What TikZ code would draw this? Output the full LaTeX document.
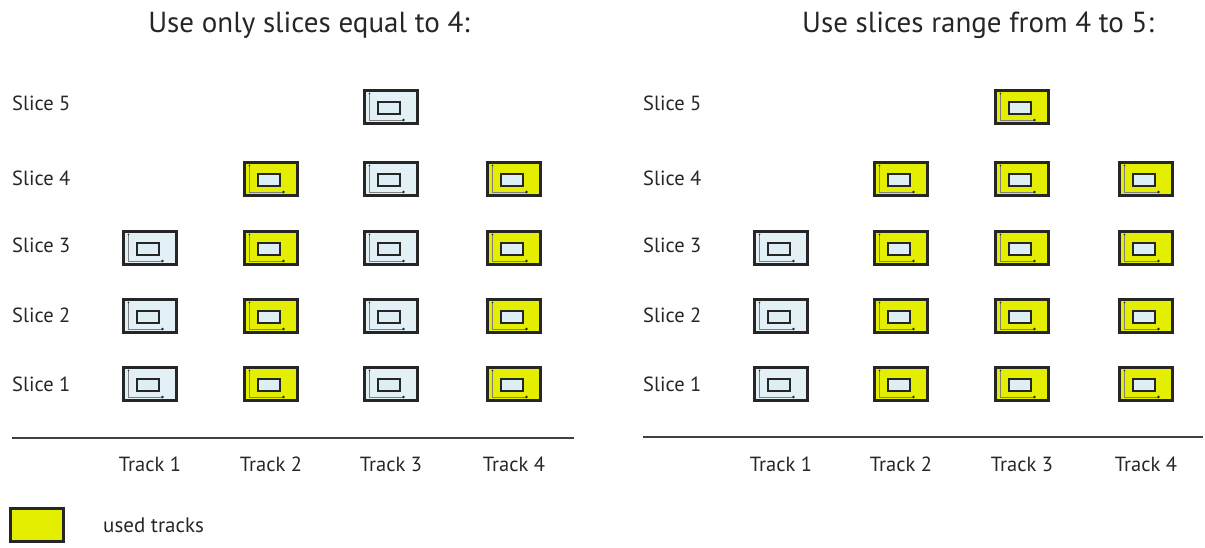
\documentclass[tikz,border=0pt]{standalone}
\usepackage{fontspec}
\setmainfont{PT Sans}
\definecolor{iconblue}{HTML}{E3F1F7}
\definecolor{innerblue}{HTML}{DDEFF5}
\definecolor{iconyellow}{HTML}{E4EE00}
\definecolor{edgecol}{HTML}{262626}
\definecolor{txtcol}{HTML}{262626}
\definecolor{rulecol}{HTML}{404040}
\tikzset{
  trackicon/.style={draw=edgecol, line width=2.2pt, minimum width=53pt, minimum height=33pt, inner sep=0pt,
    path picture={
      \draw[line width=0.7pt, draw=gray]
        ([xshift=5pt,yshift=-2pt]path picture bounding box.north west) |-
        ([xshift=-14pt,yshift=3.5pt]path picture bounding box.south east);
      \fill[edgecol] ([xshift=-14pt,yshift=3.5pt]path picture bounding box.south east) circle (1.3pt);
      \fill[edgecol] ([xshift=5pt,yshift=-3pt]path picture bounding box.north west) circle (0.8pt);
      \draw[line width=2pt, draw=edgecol, fill=innerblue]
        ([xshift=-13pt,yshift=-6.5pt]path picture bounding box.center) rectangle
        ([xshift=9pt,yshift=5.5pt]path picture bounding box.center);
    }},
  titletext/.style={text=txtcol, font=\fontsize{29}{34}\selectfont, inner sep=0pt},
  labeltext/.style={text=txtcol, font=\fontsize{20.5}{24}\selectfont, inner sep=0pt},
  baseline rule/.style={draw=rulecol, line width=2pt},
  legendbox/.style={draw=edgecol, line width=2.4pt, fill=iconyellow, minimum width=53pt, minimum height=33pt, inner sep=0pt},
}
\begin{document}
\begin{tikzpicture}[x=1pt,y=-1pt]
\useasboundingbox (0,0) rectangle (1205,547);
% titles
\node[titletext] (Ltitle) at (309,25) {Use only slices equal to 4:};
\node[titletext] (Rtitle) at (978,25) {Use slices range from 4 to 5:};
% slice labels
\foreach \s/\y in {5/103,4/178,3/245,2/315,1/384}{
  \node[labeltext, anchor=west] (Lslice\s) at (12,\y) {Slice \s};
  \node[labeltext, anchor=west] (Rslice\s) at (643,\y) {Slice \s};
}
% left panel icons
\foreach \n/\x/\y/\c in {
  5-3/391/107/iconblue,
  4-2/271/179/iconyellow, 4-3/391/179/iconblue, 4-4/514/179/iconyellow,
  3-1/150/248/iconblue, 3-2/271/248/iconyellow, 3-3/391/248/iconblue, 3-4/514/248/iconyellow,
  2-1/150/316/iconblue, 2-2/271/316/iconyellow, 2-3/391/316/iconblue, 2-4/514/316/iconyellow,
  1-1/150/384/iconblue, 1-2/271/384/iconyellow, 1-3/391/384/iconblue, 1-4/514/384/iconyellow}{
  \node[trackicon, fill=\c] (L\n) at (\x,\y) {};
}
% right panel icons
\foreach \n/\x/\y/\c in {
  5-3/1022/107/iconyellow,
  4-2/901/179/iconyellow, 4-3/1022/179/iconyellow, 4-4/1146/179/iconyellow,
  3-1/781/248/iconblue, 3-2/901/248/iconyellow, 3-3/1022/248/iconyellow, 3-4/1146/248/iconyellow,
  2-1/781/316/iconblue, 2-2/901/316/iconyellow, 2-3/1022/316/iconyellow, 2-4/1146/316/iconyellow,
  1-1/781/384/iconblue, 1-2/901/384/iconyellow, 1-3/1022/384/iconyellow, 1-4/1146/384/iconyellow}{
  \node[trackicon, fill=\c] (R\n) at (\x,\y) {};
}
% base rules
\coordinate (Lrule-a) at (12,438);
\coordinate (Lrule-b) at (574,438);
\coordinate (Rrule-a) at (643,437);
\coordinate (Rrule-b) at (1203,437);
\draw[baseline rule] (Lrule-a) -- (Lrule-b);
\draw[baseline rule] (Rrule-a) -- (Rrule-b);
% track labels
\foreach \t/\x in {1/150,2/271,3/391,4/514}{
  \node[labeltext] (Ltrack\t) at (\x,464) {Track \t};
}
\foreach \t/\x in {1/781,2/901,3/1022,4/1146}{
  \node[labeltext] (Rtrack\t) at (\x,464) {Track \t};
}
% legend
\node[legendbox] (legbox) at (37,525) {};
\node[labeltext, anchor=west, font=\fontsize{21}{24}\selectfont] (legtext) at (103,525) {used tracks};
\end{tikzpicture}
\end{document}
